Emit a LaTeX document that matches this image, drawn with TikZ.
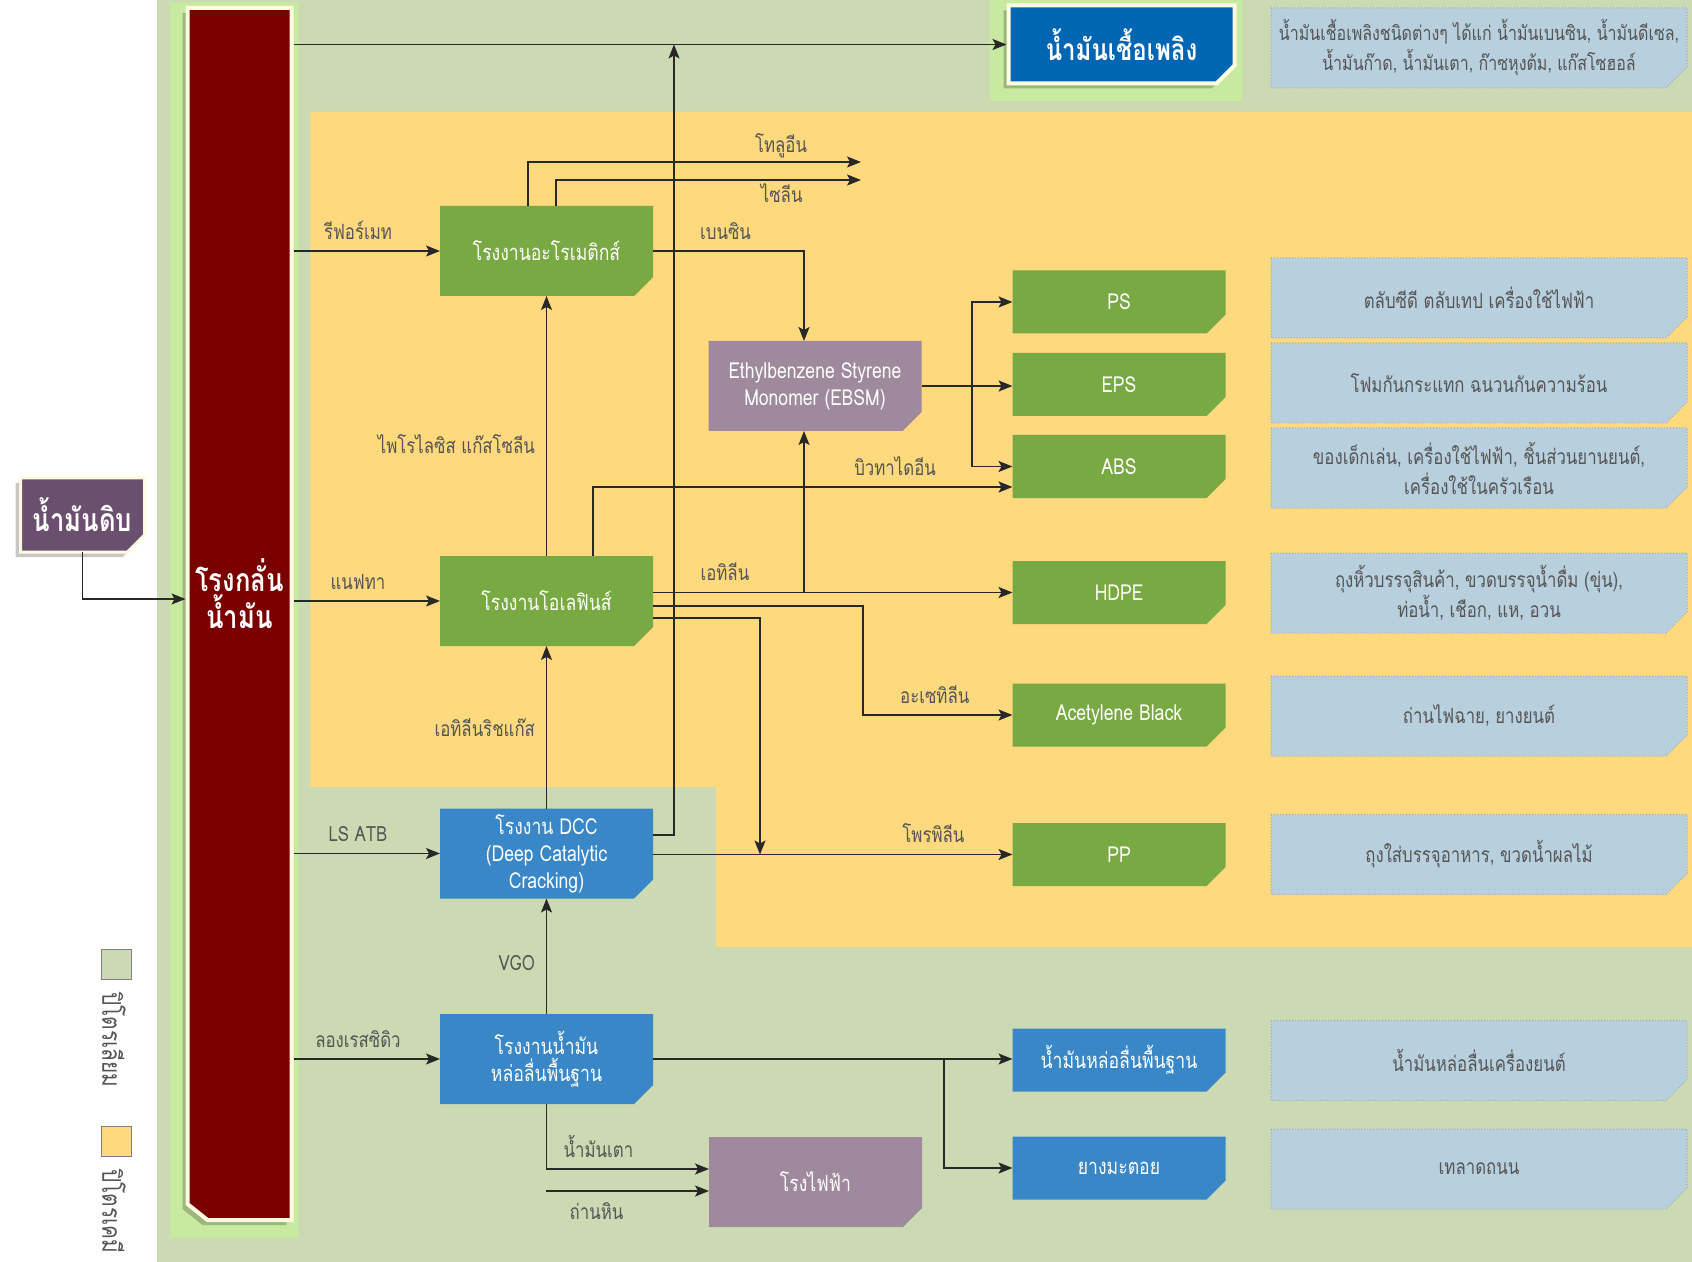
\documentclass[tikz,border=0pt]{standalone}
\usepackage{fontspec}
\newfontfamily\thaifont[Script=Thai,FakeStretch=0.8]{Loma}
\usetikzlibrary{arrows.meta}

\pgfdeclarelayer{boxes}
\pgfsetlayers{boxes,main}

\definecolor{petrobg}{RGB}{204,218,179}
\definecolor{chembg}{RGB}{254,217,125}
\definecolor{barred}{RGB}{122,0,0}
\definecolor{glowgreen}{RGB}{200,234,160}
\definecolor{cream}{RGB}{255,251,224}
\definecolor{plantgreen}{RGB}{120,169,66}
\definecolor{plantblue}{RGB}{58,135,200}
\definecolor{fuelblue}{RGB}{0,102,179}
\definecolor{mauve}{RGB}{158,138,156}
\definecolor{crudepurple}{RGB}{107,79,110}
\definecolor{descblue}{RGB}{184,207,221}
\definecolor{descline}{RGB}{150,170,185}
\definecolor{linegray}{RGB}{40,40,40}
\definecolor{labelgray}{RGB}{85,85,85}

% box outline with the lower right corner cut off
\newcommand{\chamferpath}[2]{(#1.north west) -- (#1.north east)
  -- ([yshift=#2]#1.south east) -- ([xshift=-#2]#1.south east)
  -- (#1.south west) -- cycle}

\tikzset{
  flow/.style={draw=linegray, line width=0.6pt,
    -{Stealth[length=7pt,width=5.5pt,inset=1.5pt]}},
  box/.style={rectangle, inner sep=1pt, outer sep=0pt, align=center, text=white},
  plant/.style={box, minimum width=106.5pt, minimum height=45pt,
    font=\thaifont\fontsize{11}{13.5}\selectfont},
  product/.style={plant, minimum height=31.5pt},
  usage/.style={box, minimum width=208pt, minimum height=40pt, text=labelgray,
    font=\thaifont\fontsize{10.5}{15}\selectfont},
  usagefill/.style={fill=descblue, draw=descline, densely dotted, line width=0.5pt},
  flowlabel/.style={text=labelgray, inner sep=1.5pt,
    font=\thaifont\fontsize{10.5}{13}\selectfont},
  barbox/.style={box, minimum width=52pt, minimum height=586pt,
    font=\thaifont\bfseries\fontsize{16}{18.5}\selectfont},
  crudebox/.style={box, minimum width=62pt, minimum height=37pt,
    font=\thaifont\bfseries\fontsize{16}{18}\selectfont},
  fuelbox/.style={box, minimum width=113pt, minimum height=39pt,
    font=\thaifont\bfseries\fontsize{15}{18}\selectfont},
  shade/.style={fill=black, opacity=0.22,
    transform canvas={shift={(-2.5pt,-2.5pt)}}},
  legendkey/.style={draw=gray, line width=0.5pt, minimum width=15pt,
    minimum height=15pt, inner sep=0pt},
  legendtext/.style={rotate=-90, anchor=west, text=labelgray, inner sep=0pt,
    font=\thaifont\fontsize{13}{15}\selectfont},
}

\begin{document}
\begin{tikzpicture}[x=0.5pt,y=-0.5pt]
  \useasboundingbox (0,0) rectangle (1692,1262);
  % areas
  \begin{pgfonlayer}{boxes}
    \fill[petrobg] (157,0) rectangle (1692,1262);
    \fill[chembg] (310,112) -- (1692,112) -- (1692,947) -- (716,947)
      -- (716,787) -- (310,787) -- cycle;
    \fill[glowgreen] (170,2) rectangle (298,1238);
    \fill[glowgreen] (990,0) rectangle (1242,101);
  \end{pgfonlayer}

  % legend
  \node[legendkey, fill=petrobg] (keypetro) at (116,964) {};
  \node[legendtext] (keypetrotext) at (114,992) {ปิโตรเลียม};
  \node[legendkey, fill=chembg] (keychem) at (116,1141) {};
  \node[legendtext] (keychemtext) at (114,1169) {ปิโตรเคมี};

  % crude, refinery, fuel
  \node[crudebox] (crude) at (82.5,515) {น้ำมันดิบ};
  \node[barbox] (refinery) at (239.5,594) {โรงกลั่น\\น้ำมัน};
  \node[fuelbox] (fuel) at (1121.5,44.5) {น้ำมันเชื้อเพลิง};

  % plants
  \node[plant] (aromatics) at (546.5,251) {โรงงานอะโรเมติกส์};
  \node[plant] (olefins) at (546.5,601) {โรงงานโอเลฟินส์};
  \node[plant] (dcc) at (546.5,853.5) {โรงงาน DCC\\(Deep Catalytic\\Cracking)};
  \node[plant] (lube) at (546.5,1059) {โรงงานน้ำมัน\\หล่อลื่นพื้นฐาน};
  \node[plant] (ebsm) at (815,386) {Ethylbenzene Styrene\\Monomer (EBSM)};
  \node[plant] (power) at (815.5,1182) {โรงไฟฟ้า};

  % products
  \node[product] (ps) at (1119,302) {PS};
  \node[product] (eps) at (1119,384.5) {EPS};
  \node[product] (abs) at (1119,466.5) {ABS};
  \node[product] (hdpe) at (1119,592.5) {HDPE};
  \node[product] (acet) at (1119,715) {Acetylene Black};
  \node[product] (pp) at (1119,854.5) {PP};
  \node[product] (baseoil) at (1119,1060) {น้ำมันหล่อลื่นพื้นฐาน};
  \node[product] (asphalt) at (1119,1168) {ยางมะตอย};

  % uses
  \node[usage, font=\thaifont\fontsize{10}{15}\selectfont] (fueluse) at (1479,48) {น้ำมันเชื้อเพลิงชนิดต่างๆ ได้แก่ น้ำมันเบนซิน, น้ำมันดีเซล,\\น้ำมันก๊าด, น้ำมันเตา, ก๊าซหุงต้ม, แก๊สโซฮอล์};
  \node[usage] (psuse) at (1479,298) {ตลับซีดี ตลับเทป เครื่องใช้ไฟฟ้า};
  \node[usage] (epsuse) at (1479,383) {โฟมกันกระแทก ฉนวนกันความร้อน};
  \node[usage] (absuse) at (1479,468) {ของเด็กเล่น, เครื่องใช้ไฟฟ้า, ชิ้นส่วนยานยนต์,\\เครื่องใช้ในครัวเรือน};
  \node[usage] (hdpeuse) at (1479,593) {ถุงหิ้วบรรจุสินค้า, ขวดบรรจุน้ำดื่ม (ขุ่น),\\ท่อน้ำ, เชือก, แห, อวน};
  \node[usage] (acetuse) at (1479,716) {ถ่านไฟฉาย, ยางยนต์};
  \node[usage] (ppuse) at (1479,854.5) {ถุงใส่บรรจุอาหาร, ขวดน้ำผลไม้};
  \node[usage] (baseoiluse) at (1479,1060.5) {น้ำมันหล่อลื่นเครื่องยนต์};
  \node[usage] (asphaltuse) at (1479,1169) {เทลาดถนน};

  % box fills, behind the texts
  \begin{pgfonlayer}{boxes}
    \fill[shade] (refinery.north west) -- (refinery.north east)
      -- ([yshift=-20pt]refinery.south east) -- ([xshift=10pt,yshift=-20pt]refinery.south west)
      -- ([yshift=-12pt]refinery.south west) -- cycle;
    \filldraw[fill=barred, draw=cream, line width=2pt] (refinery.north west) -- (refinery.north east)
      -- ([yshift=-20pt]refinery.south east) -- ([xshift=10pt,yshift=-20pt]refinery.south west)
      -- ([yshift=-12pt]refinery.south west) -- cycle;
    \fill[shade] \chamferpath{crude}{8.5pt};
    \filldraw[fill=crudepurple, draw=cream, line width=1.5pt] \chamferpath{crude}{8.5pt};
    \fill[shade] \chamferpath{fuel}{9pt};
    \filldraw[fill=fuelblue, draw=cream, line width=2pt] \chamferpath{fuel}{9pt};
    \foreach \n/\c in {aromatics/plantgreen, olefins/plantgreen, dcc/plantblue,
        lube/plantblue, ebsm/mauve, power/mauve, ps/plantgreen, eps/plantgreen,
        abs/plantgreen, hdpe/plantgreen, acet/plantgreen, pp/plantgreen,
        baseoil/plantblue, asphalt/plantblue}
      \fill[\c] \chamferpath{\n}{9.5pt};
    \foreach \n in {fueluse, psuse, epsuse, absuse, hdpeuse, acetuse, ppuse,
        baseoiluse, asphaltuse}
      \path[usagefill] \chamferpath{\n}{10.5pt};
  \end{pgfonlayer}

  % bends and free ends
  \coordinate (tolend) at (861,162);
  \coordinate (xylend) at (861,180);
  \coordinate (ebsmsplit) at (972,386);
  \coordinate (ethtap) at (804,592);
  \coordinate (acetbend) at (863,606);
  \coordinate (propdrop) at (760,618);
  \coordinate (dccup) at (674,835);
  \coordinate (lubesplit) at (944,1059);
  \coordinate (coalstart) at (546,1191);

  % refinery in and out
  \draw[flow] (crude.south) |- ([xshift=-1pt,yshift=-2.5pt]refinery.west);
  \draw[flow] ([xshift=1pt]refinery.east |- fuel.west) -- ([xshift=-1pt]fuel.west);
  \draw[flow] ([xshift=1pt]refinery.east |- aromatics.west) -- node[flowlabel, pos=0.44, above=4pt] (lblref) {รีฟอร์เมท} (aromatics.west);
  \draw[flow] ([xshift=1pt]refinery.east |- olefins.west) -- node[flowlabel, pos=0.44, above=4pt] (lblnaph) {แนฟทา} (olefins.west);
  \draw[flow] ([xshift=1pt]refinery.east |- dcc.west) -- node[flowlabel, pos=0.44, above=4pt] (lblatb) {LS ATB} (dcc.west);
  \draw[flow] ([xshift=1pt]refinery.east |- lube.west) -- node[flowlabel, pos=0.44, above=4pt] (lbllong) {ลองเรสซิดิว} (lube.west);

  % aromatics
  \draw[flow] ([xshift=-9.25pt]aromatics.north) |- node[flowlabel, pos=0.88, above] (lbltol) {โทลูอีน} (tolend);
  \draw[flow] ([xshift=4.75pt]aromatics.north) |- node[flowlabel, pos=0.87, below] (lblxyl) {ไซลีน} (xylend);
  \draw[flow] (aromatics.east) -| node[flowlabel, pos=0.24, above=4pt] (lblbenz) {เบนซิน} ([xshift=-5.5pt]ebsm.north);

  % styrenics
  \draw[flow] (ebsm.east) -- (ebsm.east -| eps.west);
  \draw[flow] (ebsmsplit) |- (ps.west);
  \draw[flow] (ebsmsplit) |- (abs.west);

  % olefins
  \draw[flow] (olefins.north) -- node[flowlabel, pos=0.43, left=4pt] (lblpyro) {ไพโรไลซิส แก๊สโซลีน} (aromatics.south);
  \draw[flow] ([xshift=23.25pt]olefins.north) |- node[flowlabel, pos=0.86, above=4pt] (lblbuta) {บิวทาไดอีน} ([yshift=-10.25pt]abs.west);
  \draw[flow] (olefins.east |- hdpe.west) -- node[flowlabel, pos=0.2, above=4pt] (lbleth) {เอทิลีน} (hdpe.west);
  \draw[flow] (ethtap) -- (ethtap |- ebsm.south);
  \draw[flow] (olefins.east |- acetbend) -- (acetbend) |- node[flowlabel, pos=0.74, above=4pt] (lblacet) {อะเซทิลีน} (acet.west);
  \draw[flow] (olefins.east |- propdrop) -- (propdrop) -- (propdrop |- pp.west);

  % dcc
  \draw[flow] (dcc.east |- dccup) -- (dccup) -- (dccup |- fuel.west);
  \draw[flow] (dcc.east |- pp.west) -- node[flowlabel, pos=0.78, above=4pt] (lblprop) {โพรพิลีน} (pp.west);
  \draw[flow] (dcc.north) -- node[flowlabel, pos=0.5, left=4pt] (lblrich) {เอทิลีนริชแก๊ส} (olefins.south);

  % lube
  \draw[flow] (lube.north) -- node[flowlabel, pos=0.44, left=4pt] (lblvgo) {VGO} (dcc.south);
  \draw[flow] (lube.east) -- (lube.east -| baseoil.west);
  \draw[flow] (lubesplit) |- (asphalt.west);
  \draw[flow] (lube.south) |- node[flowlabel, pos=0.66, above=4pt] (lblfo) {น้ำมันเตา} ([yshift=6.5pt]power.west);
  \draw[flow] (coalstart) -- node[flowlabel, pos=0.31, below=4pt] (lblcoal) {ถ่านหิน} (coalstart -| power.west);
\end{tikzpicture}
\end{document}
